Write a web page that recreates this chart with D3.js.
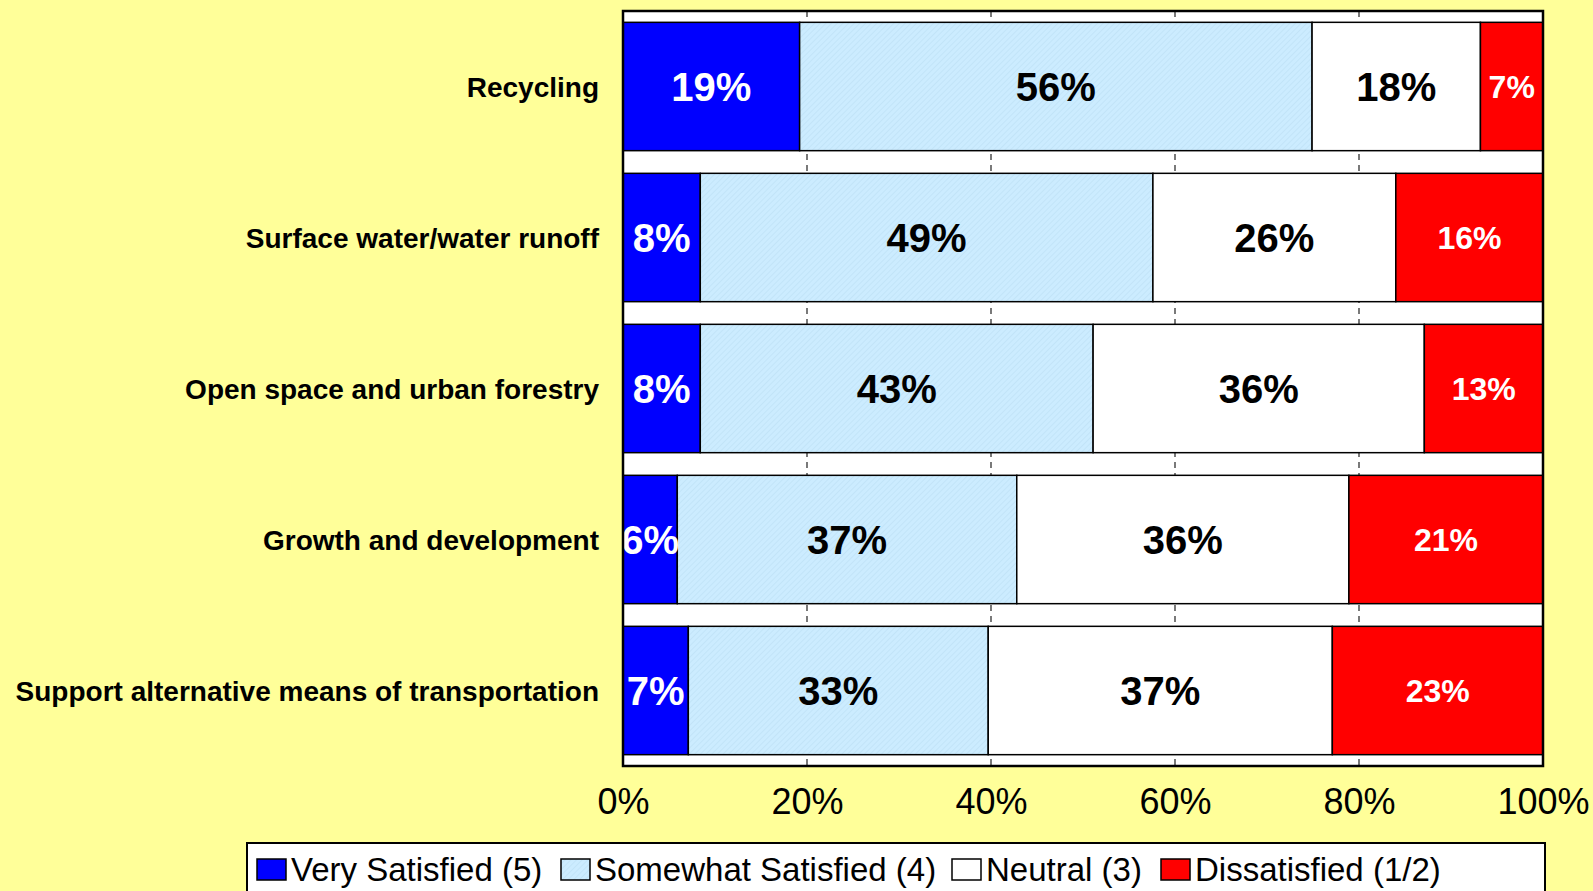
<!DOCTYPE html>
<html>
<head>
<meta charset="utf-8">
<script src="https://cdn.jsdelivr.net/npm/d3@7"></script>
<style>
  body { margin: 0; background: #FFFF99; }
  svg { display: block; }
</style>
</head>
<body>
<script>
// data (percent of respondents)
var categories = ["Recycling", "Surface water/water runoff", "Open space and urban forestry",
                  "Growth and development", "Support alternative means of transportation"];
var verySatisfied     = [19.2, 8.4, 8.4, 5.9, 7.1];
var somewhatSatisfied = [55.7, 49.2, 42.7, 36.9, 32.6];
var neutral           = [18.3, 26.4, 36.0, 36.1, 37.4];
var dissatisfied      = [6.8, 16.0, 12.9, 21.1, 22.9];
var seriesNames = ["Very Satisfied (5)", "Somewhat Satisfied (4)", "Neutral (3)", "Dissatisfied (1/2)"];
var tickValues = [0, 20, 40, 60, 80, 100];

var width = 1593,
    height = 891,
    plotLeft = 623, plotRight = 1543,
    plotTop = 11, plotBottom = 766;

var fills = ["#0000FF", "url(#hatch)", "#FFFFFF", "#FF0000"],
    labelColors = ["#FFFFFF", "#000000", "#000000", "#FFFFFF"],
    labelSizes = [40, 40, 40, 32];

var x = d3.scaleLinear().domain([0, 100]).range([plotLeft, plotRight]);
var y = d3.scaleBand().domain(categories).range([plotTop, plotBottom]).paddingInner(0.15).paddingOuter(0.075);

var rows = categories.map(function(c, i) {
    return { cat: c, s0: verySatisfied[i], s1: somewhatSatisfied[i], s2: neutral[i], s3: dissatisfied[i] };
});
var stack = d3.stack().keys(["s0", "s1", "s2", "s3"])(rows);

var svg = d3.select("body").append("svg")
    .attr("width", width)
    .attr("height", height);

// hatched light blue fill
var pat = svg.append("defs").append("pattern")
    .attr("id", "hatch")
    .attr("patternUnits", "userSpaceOnUse")
    .attr("width", 4).attr("height", 4)
    .attr("patternTransform", "rotate(45)");
pat.append("rect").attr("width", 4).attr("height", 4).attr("fill", "#CCECFF");
pat.append("line").attr("x1", 0).attr("y1", 0).attr("x2", 0).attr("y2", 4)
    .attr("stroke", "#B8DDF2").attr("stroke-width", 1);

// plot area
svg.append("rect")
    .attr("x", plotLeft).attr("y", plotTop)
    .attr("width", plotRight - plotLeft).attr("height", plotBottom - plotTop)
    .attr("fill", "#FFFFFF");

// dashed gridlines
svg.append("g")
    .selectAll("line")
    .data(tickValues.slice(1, -1))
    .enter()
    .append("line")
    .attr("x1", function(d) { return x(d); })
    .attr("x2", function(d) { return x(d); })
    .attr("y1", plotTop)
    .attr("y2", plotBottom)
    .attr("stroke", "#222")
    .attr("stroke-width", 1.2)
    .attr("stroke-dasharray", "6,5");

// bars
var layers = svg.append("g")
    .selectAll("g")
    .data(stack)
    .enter()
    .append("g")
    .attr("fill", function(d, i) { return fills[i]; });

layers.selectAll("rect")
    .data(function(d) { return d; })
    .enter()
    .append("rect")
    .attr("x", function(d) { return x(d[0]); })
    .attr("y", function(d) { return y(d.data.cat); })
    .attr("width", function(d) { return x(d[1]) - x(d[0]); })
    .attr("height", y.bandwidth())
    .attr("stroke", "#000")
    .attr("stroke-width", 1.5);

// segment labels
stack.forEach(function(layer, i) {
    svg.append("g")
        .selectAll("text")
        .data(layer)
        .enter()
        .append("text")
        .attr("x", function(d) { return (x(d[0]) + x(d[1])) / 2; })
        .attr("y", function(d) { return y(d.data.cat) + y.bandwidth() / 2; })
        .attr("dy", "0.36em")
        .attr("text-anchor", "middle")
        .attr("font-family", "Liberation Sans, Arial, sans-serif")
        .attr("font-weight", "bold")
        .attr("font-size", labelSizes[i])
        .attr("fill", labelColors[i])
        .text(function(d) { return Math.round(d[1] - d[0]) + "%"; });
});

// plot border
svg.append("rect")
    .attr("x", plotLeft).attr("y", plotTop)
    .attr("width", plotRight - plotLeft).attr("height", plotBottom - plotTop)
    .attr("fill", "none")
    .attr("stroke", "#000")
    .attr("stroke-width", 2.5);

// category labels
svg.append("g")
    .selectAll("text")
    .data(categories)
    .enter()
    .append("text")
    .attr("x", 599)
    .attr("y", function(d) { return y(d) + y.bandwidth() / 2; })
    .attr("dy", "0.36em")
    .attr("text-anchor", "end")
    .attr("font-family", "Liberation Sans, Arial, sans-serif")
    .attr("font-weight", "bold")
    .attr("font-size", 28)
    .attr("fill", "#000")
    .text(function(d) { return d; });

// x axis
var xAxis = svg.append("g")
    .attr("transform", "translate(0," + plotBottom + ")")
    .call(d3.axisBottom(x).tickValues(tickValues).tickSize(0).tickPadding(22)
        .tickFormat(function(d) { return d + "%"; }));
xAxis.select(".domain").remove();
xAxis.selectAll("text")
    .attr("font-family", "Liberation Sans, Arial, sans-serif")
    .attr("font-size", 36)
    .attr("fill", "#000");

// legend
var legend = svg.append("g");
legend.append("rect")
    .attr("x", 247).attr("y", 843)
    .attr("width", 1298).attr("height", 60)
    .attr("fill", "#FFFFFF")
    .attr("stroke", "#000")
    .attr("stroke-width", 2);

var legendX = [257, 561, 952, 1161];
var items = legend.selectAll("g.item")
    .data(seriesNames)
    .enter()
    .append("g")
    .attr("class", "item")
    .attr("transform", function(d, i) { return "translate(" + legendX[i] + ",869)"; });

items.append("rect")
    .attr("x", 0).attr("y", -10)
    .attr("width", 29).attr("height", 21)
    .attr("fill", function(d, i) { return fills[i]; })
    .attr("stroke", "#000")
    .attr("stroke-width", 1.5);

items.append("text")
    .attr("x", 34)
    .attr("dy", "0.36em")
    .attr("font-family", "Liberation Sans, Arial, sans-serif")
    .attr("font-size", 33)
    .attr("fill", "#000")
    .text(function(d) { return d; });
</script>
</body>
</html>
